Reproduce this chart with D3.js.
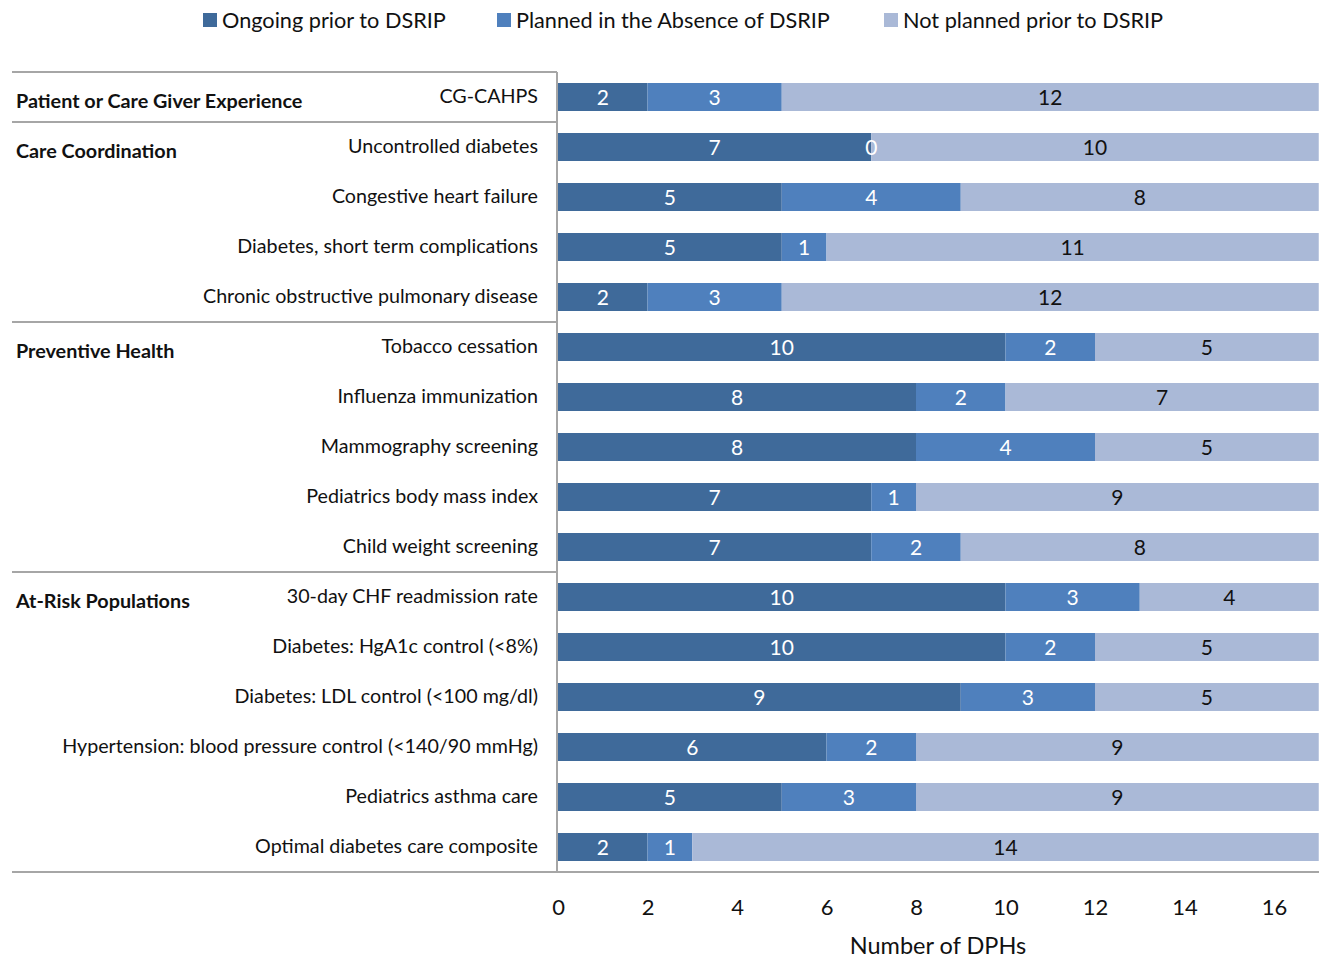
<!DOCTYPE html>
<html><head><meta charset="utf-8">
<script src="https://cdn.jsdelivr.net/npm/d3@7"></script>
<style>body{margin:0;background:#fff;} text{font-family:Lato,"Open Sans",sans-serif;}</style>
</head><body><svg id="c" width="1322" height="960"></svg>
<script>
const measures = ["CG-CAHPS","Uncontrolled diabetes","Congestive heart failure","Diabetes, short term complications","Chronic obstructive pulmonary disease","Tobacco cessation","Influenza immunization","Mammography screening","Pediatrics body mass index","Child weight screening","30-day CHF readmission rate","Diabetes: HgA1c control (<8%)","Diabetes: LDL control (<100 mg/dl)","Hypertension: blood pressure control (<140/90 mmHg)","Pediatrics asthma care","Optimal diabetes care composite"];
const ongoing = [2,7,5,5,2,10,8,8,7,7,10,10,9,6,5,2];
const planned = [3,0,4,1,3,2,2,4,1,2,3,2,3,2,3,1];
const notPlanned = [12,10,8,11,12,5,7,5,9,8,4,5,5,9,9,14];
const seriesNames = ["Ongoing prior to DSRIP","Planned in the Absence of DSRIP","Not planned prior to DSRIP"];
const groups = ["Patient or Care Giver Experience","Care Coordination","Preventive Health","At-Risk Populations"];
const groupStart = [0,1,5,10];
const xTicks = [0,2,4,6,8,10,12,14,16];
const xTitle = "Number of DPHs";

const colors = ["#3f6a9a","#4f80bd","#aab9d7"];
const labelColors = ["#fff","#fff","#111"];
const svg = d3.select("#c");
const x = d3.scaleLinear().domain([0,17]).range([558,1318.75]);
const y = d3.scaleBand().domain(measures).range([72,872]).paddingInner(0.44).paddingOuter(0.22);
const band = y.step();

const series = [ongoing, planned, notPlanned];
const gBars = svg.append("g"), gLabels = svg.append("g");
measures.forEach((m,i)=>{
  let acc = 0;
  series.forEach((s,k)=>{
    const v = s[i];
    gBars.append("rect").attr("x",x(acc)).attr("y",y(m)).attr("width",x(acc+v)-x(acc)).attr("height",y.bandwidth()).attr("fill",colors[k]);
    gLabels.append("text").attr("x",(x(acc)+x(acc+v))/2).attr("y",y(m)+y.bandwidth()/2+7.5)
      .attr("text-anchor","middle").attr("font-size",21).attr("fill",labelColors[k]).text(v);
    acc += v;
  });
});
// measure labels
measures.forEach((m,i)=>{
  svg.append("text").attr("x",538).attr("y",y(m)+y.bandwidth()/2+5.5).attr("text-anchor","end")
    .attr("font-size",19.7).attr("fill","#111").text(m);
});
// group labels & lines
const lineC = "#a6a6a6";
const yTop = y.range()[0], yBot = y.range()[1];
groups.forEach((g,j)=>{
  const m = measures[groupStart[j]];
  svg.append("text").attr("x",16).attr("y",y(m)+y.bandwidth()/2+10.5).attr("font-size",19.8).attr("font-weight","bold").attr("fill","#111").text(g);
  const ly = yTop + groupStart[j]*band;
  svg.append("line").attr("x1",12).attr("x2",557).attr("y1",ly).attr("y2",ly).attr("stroke",lineC).attr("stroke-width",2);
});
svg.append("line").attr("x1",12).attr("x2",1319).attr("y1",yBot).attr("y2",yBot).attr("stroke",lineC).attr("stroke-width",2);
svg.append("line").attr("x1",557).attr("x2",557).attr("y1",yTop).attr("y2",yBot).attr("stroke",lineC).attr("stroke-width",2);
// x axis
const ax = svg.append("g").attr("transform",`translate(0,${yBot})`).call(d3.axisBottom(x).tickValues(xTicks).tickSize(0).tickPadding(27));
ax.select(".domain").remove();
ax.selectAll("text").attr("font-size",22).attr("fill","#111").attr("font-family","Lato,'Open Sans',sans-serif");
svg.append("text").attr("x",938).attr("y",954).attr("text-anchor","middle").attr("font-size",23.5).attr("fill","#111").text(xTitle);
// legend
const legX = [203,497,884];
seriesNames.forEach((n,k)=>{
  svg.append("rect").attr("x",legX[k]).attr("y",13).attr("width",14).attr("height",14).attr("fill",colors[k]);
  svg.append("text").attr("x",legX[k]+19).attr("y",27.5).attr("font-size",21.7).attr("fill","#111").text(n);
});
</script></body></html>
